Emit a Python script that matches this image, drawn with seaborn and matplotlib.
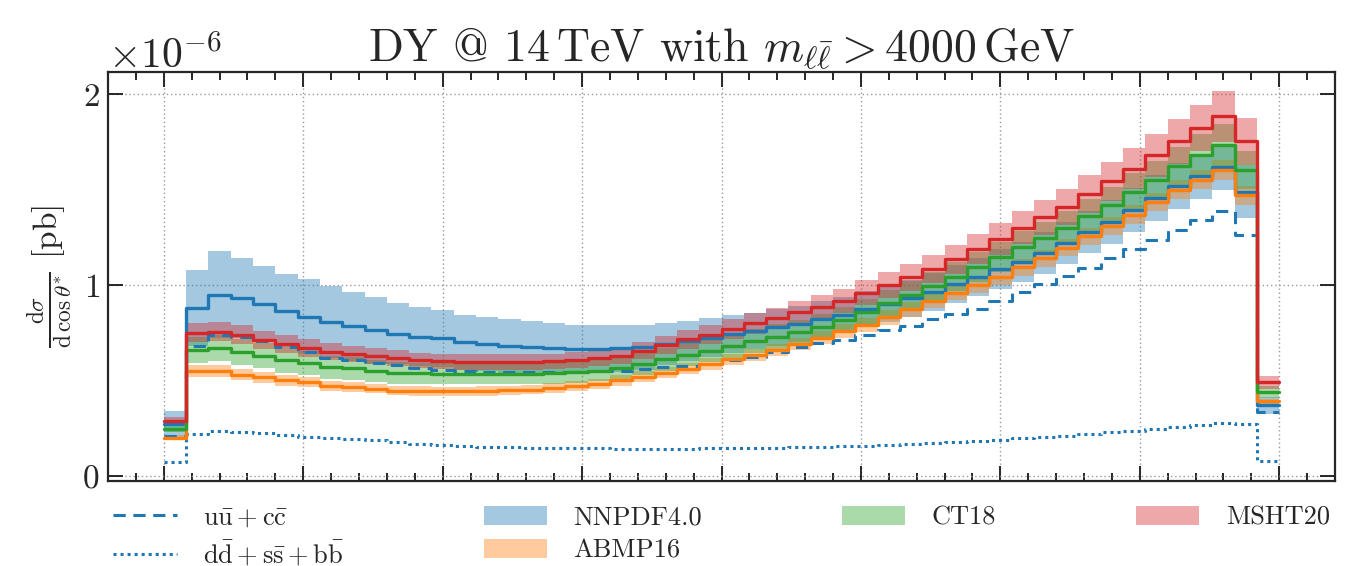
import numpy as np
import pandas as pd
import matplotlib
matplotlib.use("Agg")
import matplotlib.pyplot as plt
from matplotlib.ticker import MultipleLocator, ScalarFormatter, NullFormatter
from matplotlib.patches import Patch
from matplotlib.lines import Line2D
import seaborn as sns

# ---------------- data (units of 1e-6 pb) ----------------
bin_edges = np.linspace(-1.0, 1.0, 51)

nnpdf = [0.27, 0.88, 0.95, 0.93, 0.90, 0.865, 0.833, 0.807, 0.784, 0.763,
         0.745, 0.73, 0.72, 0.70, 0.69, 0.68, 0.675, 0.668, 0.665, 0.665,
         0.668, 0.675, 0.69, 0.705, 0.725, 0.745, 0.76, 0.778, 0.795, 0.82,
         0.845, 0.875, 0.90, 0.93, 0.965, 1.005, 1.044, 1.085, 1.12, 1.17,
         1.223, 1.278, 1.333, 1.393, 1.455, 1.52, 1.57, 1.62, 1.49, 0.37]
nnpdf_err = [0.07, 0.20, 0.23, 0.21, 0.20, 0.195, 0.197, 0.188, 0.18, 0.177,
             0.16, 0.155, 0.148, 0.145, 0.143, 0.14, 0.135, 0.135, 0.128, 0.125,
             0.122, 0.118, 0.11, 0.105, 0.10, 0.10, 0.095, 0.095, 0.095, 0.095,
             0.095, 0.095, 0.095, 0.095, 0.10, 0.10, 0.10, 0.105, 0.105, 0.11,
             0.11, 0.11, 0.115, 0.115, 0.12, 0.12, 0.12, 0.12, 0.14, 0.045]

abmp = [0.20, 0.55, 0.55, 0.53, 0.517, 0.50, 0.49, 0.47, 0.465, 0.457,
        0.447, 0.445, 0.443, 0.443, 0.445, 0.448, 0.452, 0.46, 0.47, 0.48,
        0.50, 0.52, 0.54, 0.562, 0.585, 0.61, 0.635, 0.66, 0.69, 0.725,
        0.76, 0.79, 0.83, 0.873, 0.918, 0.96, 1.0, 1.045, 1.093, 1.14,
        1.197, 1.255, 1.308, 1.37, 1.435, 1.50, 1.553, 1.605, 1.47, 0.39]
abmp_err = [0.012, 0.03, 0.03, 0.029, 0.028, 0.027, 0.027, 0.026, 0.026, 0.025,
            0.025, 0.025, 0.025, 0.025, 0.025, 0.025, 0.025, 0.026, 0.026, 0.027,
            0.027, 0.028, 0.028, 0.029, 0.03, 0.03, 0.031, 0.032, 0.033, 0.034,
            0.035, 0.036, 0.037, 0.038, 0.039, 0.04, 0.041, 0.042, 0.043, 0.044,
            0.045, 0.046, 0.047, 0.048, 0.049, 0.05, 0.051, 0.052, 0.05, 0.015]

ct18 = [0.247, 0.66, 0.67, 0.65, 0.63, 0.605, 0.59, 0.57, 0.563, 0.549,
        0.54, 0.537, 0.535, 0.534, 0.534, 0.534, 0.535, 0.538, 0.544, 0.552,
        0.563, 0.585, 0.61, 0.635, 0.655, 0.68, 0.705, 0.73, 0.754, 0.78,
        0.816, 0.86, 0.904, 0.947, 0.995, 1.044, 1.096, 1.146, 1.20, 1.246,
        1.298, 1.36, 1.42, 1.49, 1.553, 1.623, 1.684, 1.737, 1.605, 0.44]
ct18_err = [0.02, 0.07, 0.07, 0.068, 0.066, 0.064, 0.062, 0.06, 0.059, 0.058,
            0.057, 0.056, 0.055, 0.055, 0.055, 0.055, 0.055, 0.055, 0.055, 0.056,
            0.057, 0.058, 0.059, 0.06, 0.061, 0.062, 0.063, 0.064, 0.065, 0.066,
            0.067, 0.068, 0.07, 0.072, 0.074, 0.076, 0.078, 0.08, 0.083, 0.086,
            0.089, 0.092, 0.095, 0.098, 0.10, 0.103, 0.106, 0.11, 0.10, 0.03]

msht = [0.286, 0.75, 0.755, 0.74, 0.71, 0.69, 0.67, 0.65, 0.637, 0.626,
        0.616, 0.605, 0.60, 0.597, 0.596, 0.596, 0.597, 0.60, 0.608, 0.618,
        0.63, 0.655, 0.685, 0.715, 0.74, 0.77, 0.80, 0.826, 0.858, 0.886,
        0.915, 0.96, 1.0, 1.042, 1.086, 1.135, 1.19, 1.242, 1.30, 1.355,
        1.41, 1.478, 1.545, 1.61, 1.68, 1.754, 1.825, 1.886, 1.754, 0.49]
msht_err = [0.02, 0.05, 0.05, 0.05, 0.047, 0.046, 0.045, 0.044, 0.043, 0.042,
            0.041, 0.04, 0.04, 0.04, 0.04, 0.04, 0.04, 0.04, 0.041, 0.041,
            0.042, 0.044, 0.046, 0.048, 0.05, 0.052, 0.054, 0.056, 0.058, 0.06,
            0.062, 0.065, 0.068, 0.071, 0.074, 0.077, 0.08, 0.083, 0.087, 0.09,
            0.094, 0.098, 0.102, 0.107, 0.112, 0.117, 0.122, 0.134, 0.123, 0.035]

uu_cc = [0.21, 0.68, 0.74, 0.73, 0.705, 0.675, 0.65, 0.62, 0.605, 0.59,
         0.58, 0.565, 0.557, 0.55, 0.545, 0.544, 0.544, 0.544, 0.545, 0.547,
         0.55, 0.56, 0.568, 0.575, 0.588, 0.605, 0.623, 0.649, 0.675, 0.694,
         0.71, 0.737, 0.763, 0.784, 0.82, 0.85, 0.873, 0.918, 0.965, 1.005,
         1.047, 1.09, 1.142, 1.188, 1.237, 1.29, 1.34, 1.39, 1.265, 0.333]

dd_ss_bb = [0.07, 0.22, 0.233, 0.23, 0.225, 0.215, 0.205, 0.198, 0.193, 0.185,
            0.175, 0.168, 0.162, 0.157, 0.152, 0.149, 0.147, 0.145, 0.144, 0.143,
            0.142, 0.142, 0.142, 0.142, 0.143, 0.144, 0.145, 0.147, 0.149, 0.152,
            0.155, 0.158, 0.163, 0.168, 0.173, 0.178, 0.184, 0.19, 0.196, 0.203,
            0.21, 0.218, 0.227, 0.236, 0.245, 0.254, 0.265, 0.278, 0.27, 0.078]

pdf_names = ["NNPDF4.0", "ABMP16", "CT18", "MSHT20"]
pdf_central = [nnpdf, abmp, ct18, msht]
pdf_errors = [nnpdf_err, abmp_err, ct18_err, msht_err]
pdf_colors = ["#1f77b4", "#ff7f0e", "#2ca02c", "#d62728"]
channel_color = "#1f77b4"

SCALE = 1e-6

# ---------------- style ----------------
sns.set_theme(style="ticks", palette="tab10")
plt.rcParams.update({
    "font.family": "serif",
    "font.serif": ["cmr10"],
    "mathtext.fontset": "cm",
    "axes.formatter.use_mathtext": True,
    "axes.linewidth": 1.6,
    "axes.unicode_minus": True,
})

fig = plt.figure(figsize=(13.45, 5.66), dpi=100)
ax = fig.add_axes([108 / 1345, 1 - 481 / 566, (1335 - 108) / 1345, (481 - 72) / 566])


def step_frame(vals):
    v = np.asarray(vals, dtype=float) * SCALE
    return pd.DataFrame({"x": bin_edges, "y": np.append(v, v[-1])})


# uncertainty bands
for vals, errs, col in zip(pdf_central, pdf_errors, pdf_colors):
    v = np.asarray(vals, dtype=float)
    e = np.asarray(errs, dtype=float)
    lo = np.append(v - e, v[-1] - e[-1]) * SCALE
    hi = np.append(v + e, v[-1] + e[-1]) * SCALE
    ax.fill_between(bin_edges, lo, hi, step="post", color=col, alpha=0.4, lw=0)

# channel decomposition (NNPDF)
dash_style = (0, (4, 2.5))
dot_style = (0, (1, 1.3))
sns.lineplot(data=step_frame(uu_cc), x="x", y="y", ax=ax, color=channel_color,
             drawstyle="steps-post", lw=2.2, linestyle=dash_style,
             sort=False, estimator=None)
sns.lineplot(data=step_frame(dd_ss_bb), x="x", y="y", ax=ax, color=channel_color,
             drawstyle="steps-post", lw=2.2, linestyle=dot_style,
             sort=False, estimator=None)

# central values
for vals, col in zip(pdf_central, pdf_colors):
    sns.lineplot(data=step_frame(vals), x="x", y="y", ax=ax, color=col,
                 drawstyle="steps-post", lw=2.4, sort=False, estimator=None)

# ---------------- axes ----------------
ax.set_xlim(-1.1, 1.1)
ax.margins(y=0.05)
ax.xaxis.set_major_locator(MultipleLocator(0.25))
ax.xaxis.set_minor_locator(MultipleLocator(0.05))
ax.yaxis.set_major_locator(MultipleLocator(1e-6))
fmt = ScalarFormatter(useMathText=True)
fmt.set_powerlimits((-3, 3))
ax.yaxis.set_major_formatter(fmt)
ax.xaxis.set_major_formatter(NullFormatter())
ax.tick_params(which="both", direction="in", top=True, right=True,
               labelbottom=False, width=1.4)
ax.tick_params(which="major", length=11, labelsize=24, pad=6)
ax.tick_params(which="minor", length=6)
ax.yaxis.get_offset_text().set_fontsize(30)
ax.grid(True, which="major", ls=(0, (1, 2)), color="0.6", lw=1.0)
ax.set_xlabel("")
ax.set_ylabel(r"$\frac{\mathrm{d}\sigma}{\mathrm{d}\,\cos\theta^{*}}$ [pb]", fontsize=24, labelpad=6)
ax.set_title(r"DY @ 14$\,$TeV with $m_{\ell\bar{\ell}} > 4000\,$GeV", fontsize=33, pad=8)

# ---------------- legend ----------------
handles = [
    Line2D([], [], color=channel_color, lw=2.2, linestyle=dash_style),
    Line2D([], [], color=channel_color, lw=2.2, linestyle=dot_style),
]
labels = [r"$\mathrm{u\bar{u}+c\bar{c}}$", r"$\mathrm{d\bar{d}+s\bar{s}+b\bar{b}}$"]
for name, col in zip(pdf_names, pdf_colors):
    handles.append(Patch(facecolor=col, alpha=0.4, lw=0))
    labels.append(name)
ax.legend(handles, labels, loc="upper left", bbox_to_anchor=(0.0, -0.048, 1.0, 0.0),
          mode="expand", ncol=4, frameon=False, fontsize=19, handlelength=2.4,
          handletextpad=1.0, borderaxespad=0.0, borderpad=0.2, labelspacing=0.35)

fig.savefig("out.png", dpi=100)
